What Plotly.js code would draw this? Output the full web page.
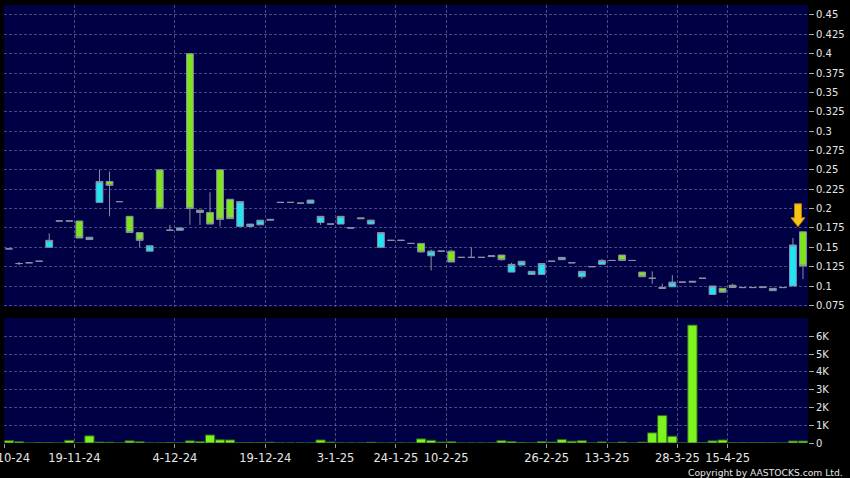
<!DOCTYPE html>
<html>
<head>
<meta charset="utf-8">
<script src="https://cdn.plot.ly/plotly-3.0.1.min.js"></script>
<style>
  html, body { margin: 0; padding: 0; background: #000000; }
  #chart { width: 850px; height: 478px; }
</style>
</head>
<body>
<div id="chart"></div>
<script>
// ---- Data ----
var openP  = [0.148,0.129,0.130,0.132,0.150,0.184,0.184,0.184,0.160,0.208,
              0.235,0.209,0.190,0.169,0.145,0.250,0.172,0.172,0.400,0.198,
              0.195,0.250,0.212,0.177,0.177,0.179,0.185,0.208,0.208,0.207,
              0.207,0.182,0.180,0.180,0.175,0.188,0.180,0.150,0.159,0.159,
              0.155,0.155,0.139,0.145,0.145,0.137,0.137,0.137,0.138,0.140,
              0.118,0.127,0.115,0.115,0.132,0.134,0.130,0.112,0.125,0.128,
              0.133,0.140,0.133,0.118,0.110,0.098,0.099,0.105,0.105,0.110,
              0.089,0.097,0.101,0.098,0.098,0.099,0.094,0.098,0.100,0.170];
var highP  = [0.148,0.131,0.130,0.132,0.168,0.184,0.184,0.184,0.163,0.250,
              0.248,0.209,0.190,0.169,0.152,0.250,0.179,0.175,0.400,0.198,
              0.221,0.250,0.212,0.209,0.180,0.185,0.186,0.208,0.208,0.207,
              0.211,0.190,0.180,0.190,0.175,0.188,0.186,0.169,0.159,0.159,
              0.155,0.155,0.147,0.145,0.147,0.137,0.150,0.137,0.139,0.140,
              0.130,0.132,0.119,0.129,0.132,0.137,0.130,0.119,0.125,0.135,
              0.133,0.140,0.133,0.118,0.119,0.103,0.114,0.105,0.106,0.110,
              0.100,0.097,0.103,0.098,0.098,0.099,0.097,0.098,0.162,0.170];
var lowP   = [0.148,0.127,0.130,0.132,0.150,0.184,0.184,0.162,0.160,0.208,
              0.190,0.209,0.169,0.150,0.145,0.200,0.172,0.172,0.179,0.179,
              0.180,0.177,0.187,0.177,0.177,0.179,0.185,0.208,0.208,0.207,
              0.207,0.179,0.180,0.180,0.175,0.187,0.180,0.150,0.159,0.159,
              0.155,0.143,0.120,0.145,0.131,0.137,0.137,0.137,0.138,0.133,
              0.118,0.127,0.115,0.115,0.132,0.134,0.130,0.109,0.125,0.128,
              0.133,0.133,0.133,0.112,0.103,0.097,0.099,0.105,0.105,0.110,
              0.089,0.092,0.098,0.098,0.098,0.098,0.094,0.098,0.100,0.109];
var closeP = [0.148,0.129,0.130,0.132,0.159,0.184,0.184,0.162,0.163,0.235,
              0.230,0.209,0.169,0.159,0.152,0.200,0.172,0.175,0.200,0.195,
              0.180,0.186,0.187,0.209,0.180,0.185,0.186,0.208,0.208,0.207,
              0.211,0.190,0.180,0.190,0.175,0.187,0.185,0.169,0.159,0.159,
              0.155,0.144,0.145,0.145,0.131,0.137,0.137,0.137,0.139,0.134,
              0.128,0.132,0.119,0.129,0.132,0.137,0.130,0.119,0.125,0.133,
              0.133,0.133,0.133,0.112,0.110,0.097,0.105,0.105,0.106,0.110,
              0.100,0.092,0.098,0.098,0.098,0.098,0.097,0.098,0.153,0.126];
var volume = [130,70,0,15,10,0,150,0,400,50,
              40,0,120,70,0,0,20,0,120,80,
              450,180,170,10,10,10,40,0,0,0,
              0,170,50,0,0,0,40,0,0,0,
              0,230,150,50,70,0,0,0,0,130,
              80,30,0,80,50,190,100,130,0,60,
              0,50,0,50,570,1540,380,0,6630,20,
              120,170,10,10,10,10,10,0,110,110];

// date labels and the candle index at which each one starts
var dateLabels = ['31-10-24','19-11-24','4-12-24','19-12-24','3-1-25','24-1-25',
                  '10-2-25','26-2-25','13-3-25','28-3-25','15-4-25'];
var dateIndex  = [0, 7, 17, 26, 33, 39, 44, 54, 60, 67, 72];

var priceTicks = [0.075,0.1,0.125,0.15,0.175,0.2,0.225,0.25,0.275,0.3,0.325,0.35,0.375,0.4,0.425,0.45];
var priceTickText = ['0.075','0.1','0.125','0.15','0.175','0.2','0.225','0.25','0.275','0.3','0.325','0.35','0.375','0.4','0.425','0.45'];
var volTicks = [0,1000,2000,3000,4000,5000,6000];
var volTickText = ['0','1K','2K','3K','4K','5K','6K'];

// ---- Build ----
var idx = openP.map(function(_, i) { return i; });
var tickPos = dateIndex.map(function(i) { return i - 0.5; });

var gridCol = 'rgba(130,130,185,0.55)';
var lineGrey = '#8E8EA2';

var candle = {
  type: 'candlestick',
  x: idx, open: openP, high: highP, low: lowP, close: closeP,
  xaxis: 'x', yaxis: 'y',
  increasing: { line: { color: lineGrey, width: 1 }, fillcolor: '#20E4F4' },
  decreasing: { line: { color: lineGrey, width: 1 }, fillcolor: '#7EE41E' },
  whiskerwidth: 0,
  hoverinfo: 'skip',
  showlegend: false
};

var bars = {
  type: 'bar',
  x: idx, y: volume,
  xaxis: 'x', yaxis: 'y2',
  marker: { color: '#7EF41E', line: { color: '#2E6A1A', width: 1 } },
  hoverinfo: 'skip',
  showlegend: false
};

var plotTop = 5, plotBottom = 443, priceBottom = 307, volTop = 318;
var H = plotBottom - plotTop;

var layout = {
  width: 850, height: 478,
  margin: { l: 4, r: 42, t: plotTop, b: 478 - plotBottom },
  paper_bgcolor: '#000000',
  plot_bgcolor: '#000044',
  font: { family: 'DejaVu Sans', color: '#E6E6E6' },
  hovermode: false,
  bargap: 0.08,
  boxgap: 0.32,
  boxgroupgap: 0,
  xaxis: {
    type: 'linear',
    range: [-0.5, idx.length - 0.5],
    anchor: 'y2',
    tickmode: 'array', tickvals: tickPos, ticktext: dateLabels,
    ticks: 'outside', ticklen: 4, tickcolor: '#9A9A9A', tickwidth: 1,
    tickfont: { size: 11.5, color: '#E6E6E6' },
    ticklabeloverflow: 'allow',
    showgrid: true, gridcolor: gridCol, griddash: '3px,2px', gridwidth: 1,
    zeroline: false, showline: false,
    rangeslider: { visible: false },
    fixedrange: true
  },
  yaxis: {
    domain: [(plotBottom - priceBottom) / H, 1],
    range: [0.0729, 0.4629],
    side: 'right', anchor: 'x',
    tickmode: 'array', tickvals: priceTicks, ticktext: priceTickText,
    ticks: 'outside', ticklen: 5, tickcolor: '#A8A8A8',
    tickfont: { size: 10, color: '#E6E6E6' },
    showgrid: true, gridcolor: gridCol, griddash: '3px,2px',
    zeroline: false, showline: false, fixedrange: true
  },
  yaxis2: {
    domain: [0, (plotBottom - volTop) / H],
    range: [0, 7030],
    side: 'right', anchor: 'x',
    tickmode: 'array', tickvals: volTicks, ticktext: volTickText,
    ticks: 'outside', ticklen: 5, tickcolor: '#A8A8A8',
    tickfont: { size: 10, color: '#E6E6E6' },
    showgrid: true, gridcolor: gridCol, griddash: '3px,2px',
    zeroline: false, showline: false, fixedrange: true
  },
  shapes: [{
    type: 'path',
    xref: 'x', yref: 'y',
    xsizemode: 'pixel', ysizemode: 'pixel',
    xanchor: idx.length - 1, yanchor: highP[highP.length - 1],
    path: 'M -5,5 L -12,14 L -8.5,14 L -8.5,28 L -1.5,28 L -1.5,14 L 2,14 Z',
    fillcolor: '#F6C412',
    line: { color: '#C27A08', width: 1 }
  }],
  annotations: [{
    xref: 'paper', yref: 'paper',
    x: (845 - 4) / 804, y: (plotBottom - 472) / H,
    xanchor: 'right', yanchor: 'middle',
    text: 'Copyright by AASTOCKS.com Ltd.',
    showarrow: false,
    font: { family: 'DejaVu Sans', size: 9.2, color: '#E6E6E6' }
  }]
};

Plotly.newPlot('chart', [candle, bars], layout, { displayModeBar: false, staticPlot: true });
</script>
</body>
</html>
